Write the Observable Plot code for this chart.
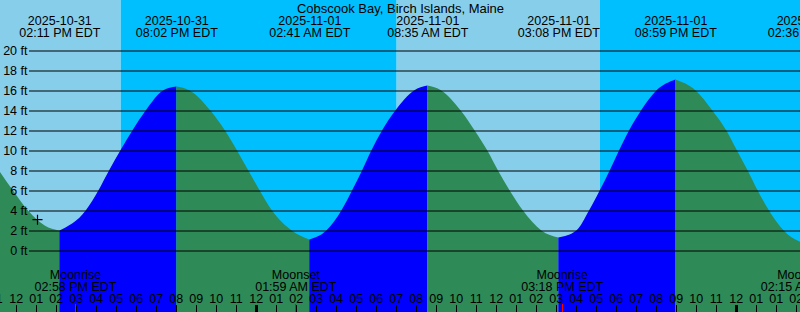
<!DOCTYPE html>
<html><head><meta charset="utf-8">
<script src="https://cdn.jsdelivr.net/npm/d3@7"></script>
<script src="https://cdn.jsdelivr.net/npm/@observablehq/plot@0.6"></script>
<style>body{margin:0;background:#fff;} svg{display:block}</style>
</head><body><div id="chart"></div>
<script>
const title = "Cobscook Bay, Birch Islands, Maine";

// High / low tides
const extremeTimes = ["2025-10-31T14:11-04:00","2025-10-31T20:02-04:00","2025-11-01T02:41-04:00","2025-11-01T08:35-04:00","2025-11-01T15:08-04:00","2025-11-01T20:59-04:00","2025-11-02T02:36-05:00"];
const extremeDates = ["2025-10-31","2025-10-31","2025-11-01","2025-11-01","2025-11-01","2025-11-01","2025-11-02"];
const extremeClock = ["02:11 PM EDT","08:02 PM EDT","02:41 AM EDT","08:35 AM EDT","03:08 PM EDT","08:59 PM EDT","02:36 AM EST"];
const extremeFeet = [2.0, 16.4, 1.1, 16.5, 1.3, 17.1, 0.6];

// Tide level readings between the extremes (feet)
const tideTimes = [
  "2025-10-31T11:10-04:00","2025-10-31T11:52-04:00","2025-10-31T12:37-04:00","2025-10-31T13:27-04:00",
  "2025-10-31T15:30-04:00","2025-10-31T16:08-04:00","2025-10-31T16:40-04:00","2025-10-31T17:14-04:00","2025-10-31T17:50-04:00","2025-10-31T18:30-04:00","2025-10-31T19:22-04:00",
  "2025-10-31T20:42-04:00","2025-10-31T21:44-04:00","2025-10-31T22:28-04:00","2025-10-31T23:04-04:00","2025-10-31T23:38-04:00","2025-11-01T00:12-04:00","2025-11-01T00:49-04:00","2025-11-01T01:48-04:00",
  "2025-11-01T03:32-04:00","2025-11-01T04:17-04:00","2025-11-01T04:49-04:00","2025-11-01T05:19-04:00","2025-11-01T05:47-04:00","2025-11-01T06:19-04:00","2025-11-01T06:59-04:00","2025-11-01T07:55-04:00",
  "2025-11-01T09:17-04:00","2025-11-01T10:15-04:00","2025-11-01T10:57-04:00","2025-11-01T11:35-04:00","2025-11-01T12:07-04:00","2025-11-01T12:42-04:00","2025-11-01T13:22-04:00","2025-11-01T14:17-04:00",
  "2025-11-01T16:02-04:00","2025-11-01T16:40-04:00","2025-11-01T17:12-04:00","2025-11-01T17:42-04:00","2025-11-01T18:10-04:00","2025-11-01T18:40-04:00","2025-11-01T19:16-04:00","2025-11-01T20:02-04:00",
  "2025-11-01T22:00-04:00","2025-11-01T22:50-04:00","2025-11-01T23:32-04:00","2025-11-02T00:04-04:00","2025-11-02T00:36-04:00","2025-11-02T01:06-04:00","2025-11-02T01:40-04:00","2025-11-02T01:24-05:00"
];
const tideFeet = [
  8.0, 6, 4, 2.5,
  4, 6, 8, 10, 12, 14, 16,
  16, 14, 12, 10, 8, 6, 4, 2,
  2, 4, 6, 8, 10, 12, 14, 16,
  16, 14, 12, 10, 8, 6, 4, 2,
  2, 4, 6, 8, 10, 12, 14, 16,
  16, 14, 12, 10, 8, 6, 4, 2
];

// Day / night bands
const bandStarts = ["2025-10-31T10:00-04:00","2025-10-31T17:15-04:00","2025-11-01T07:03-04:00","2025-11-01T17:13-04:00"];
const bandEnds   = ["2025-10-31T17:15-04:00","2025-11-01T07:03-04:00","2025-11-01T17:13-04:00","2025-11-02T04:00-05:00"];
const bandKinds  = ["day","night","day","night"];

// Moon events
const moonTimes = ["2025-10-31T14:58-04:00","2025-11-01T01:59-04:00","2025-11-01T15:18-04:00","2025-11-02T02:15-05:00"];
const moonNames = ["Moonrise","Moonset","Moonrise","Moonset"];
const moonClock = ["02:58 PM EDT","01:59 AM EDT","03:18 PM EDT","02:15 AM EST"];

// Hour axis
const hourFirst = "2025-10-31T11:00-04:00";
const hourLast  = "2025-11-02T02:00-05:00";
const hourLabels = ["11","12","01","02","03","04","05","06","07","08","09","10","11",
  "12","01","02","03","04","05","06","07","08","09","10","11",
  "12","01","02","03","04","05","06","07","08","09","10","11",
  "12","01","01","02"];
const midnightTimes = ["2025-11-01T00:00-04:00","2025-11-02T00:00-04:00"];
const feetTicks = [0,2,4,6,8,10,12,14,16,18,20];

// Current-level marker
const markerTimes = ["2025-10-31T13:04-04:00"];
const markerFeet = [3.13];

const viewStart = "2025-10-31T11:13-04:00";
const viewEnd   = "2025-11-02T02:13-05:00";
const yDomain = [-6.15, 25.05];

const colors = {day:"#87ceeb", night:"#00bfff", rise:"#0000ff", fall:"#2e8b57"};

// ---- build tables ----
const ext = extremeTimes.map((t,i)=>({t:new Date(t), ft:extremeFeet[i], date:extremeDates[i], clock:extremeClock[i]}));
const pts = tideTimes.map((t,i)=>({t:new Date(t), ft:tideFeet[i]}));
const tideRows = [];
for (let k = 0; k < ext.length; ++k) {
  const lo = k === 0 ? -Infinity : +ext[k-1].t, hi = +ext[k].t;
  const seg = pts.filter(p => +p.t > lo && +p.t < hi);
  const rows = (k === 0 ? [] : [ext[k-1]]).concat(seg, [ext[k]]);
  const rising = ext[k].ft > rows[0].ft;
  for (const r of rows) tideRows.push({t:r.t, ft:r.ft, seg:k, color: rising ? colors.rise : colors.fall});
}
const bands = bandStarts.map((s,i)=>({start:new Date(s), end:new Date(bandEnds[i]), color:colors[bandKinds[i]]}));
const moon = moonTimes.map((t,i)=>({t:new Date(t), name:moonNames[i], clock:moonClock[i]}));
const hourTicks = d3.utcHour.range(new Date(hourFirst), new Date(+new Date(hourLast)+1)).map((t,i)=>({t, label:hourLabels[i]}));
const midnights = midnightTimes.map(t=>new Date(t));
const marker = markerTimes.map((t,i)=>({t:new Date(t), ft:markerFeet[i]}));

const crossSymbol = {draw(ctx, size){ const r = Math.sqrt(size/Math.PI); ctx.moveTo(-r,0); ctx.lineTo(r,0); ctx.moveTo(0,-r); ctx.lineTo(0,r); }};

const chart = Plot.plot({
  width: 800, height: 312, margin: 0,
  x: {type:"utc", domain:[new Date(viewStart), new Date(viewEnd)], range:[0,800], axis:null},
  y: {domain: yDomain, range:[312,0], axis:null},
  color: {type:"identity"},
  style: {fontFamily:"'Liberation Sans', Arial, sans-serif", fontSize:"12.5px", color:"#000", background:"transparent", overflow:"hidden"},
  marks: [
    Plot.rect(bands, {x1:"start", x2:"end", fill:"color"}),
    Plot.areaY(tideRows, {x:"t", y1: yDomain[0], y2:"ft", z:"seg", fill:"color", curve:"monotone-x", clip:true}),
    Plot.ruleY(feetTicks, {y: d=>d, insetLeft: 29, stroke:"#000", strokeWidth:1}),
    Plot.text(feetTicks, {y: d=>d, text: d=>`${d} ft`, frameAnchor:"left", textAnchor:"end", dx:27, fill:"#000"}),
    Plot.text([title], {text: d=>d, frameAnchor:"top", lineAnchor:"bottom", dy:12, fontSize:13, fill:"#000"}),
    Plot.text(ext, {x:"t", text:"date", frameAnchor:"top", lineAnchor:"bottom", dy:24, fill:"#000"}),
    Plot.text(ext, {x:"t", text:"clock", frameAnchor:"top", lineAnchor:"bottom", dy:36, fill:"#000"}),
    Plot.text(moon, {x:"t", text:"name", frameAnchor:"bottom", lineAnchor:"bottom", dy:-34, fill:"#000"}),
    Plot.text(moon, {x:"t", text:"clock", frameAnchor:"bottom", lineAnchor:"bottom", dy:-22, fill:"#000"}),
    Plot.text(hourTicks, {x:"t", text:"label", frameAnchor:"bottom", lineAnchor:"bottom", dy:-10, fill:"#000"}),
    Plot.ruleX(hourTicks, {x:"t", insetTop:305, stroke:"#000", strokeWidth:1, shapeRendering:"crispEdges"}),
    Plot.ruleX(midnights, {x: d=>d, insetTop:305, stroke:"#000", strokeWidth:3, shapeRendering:"crispEdges"}),
    Plot.ruleX(moon, {x:"t", insetTop:304, stroke:"#ff0000", strokeWidth:1, shapeRendering:"crispEdges"}),
    Plot.dot(marker, {x:"t", y:"ft", r:5, symbol: crossSymbol, stroke:"#000", fill:"none", strokeWidth:1.2})
  ]
});
document.getElementById("chart").append(chart);
</script>
</body></html>
